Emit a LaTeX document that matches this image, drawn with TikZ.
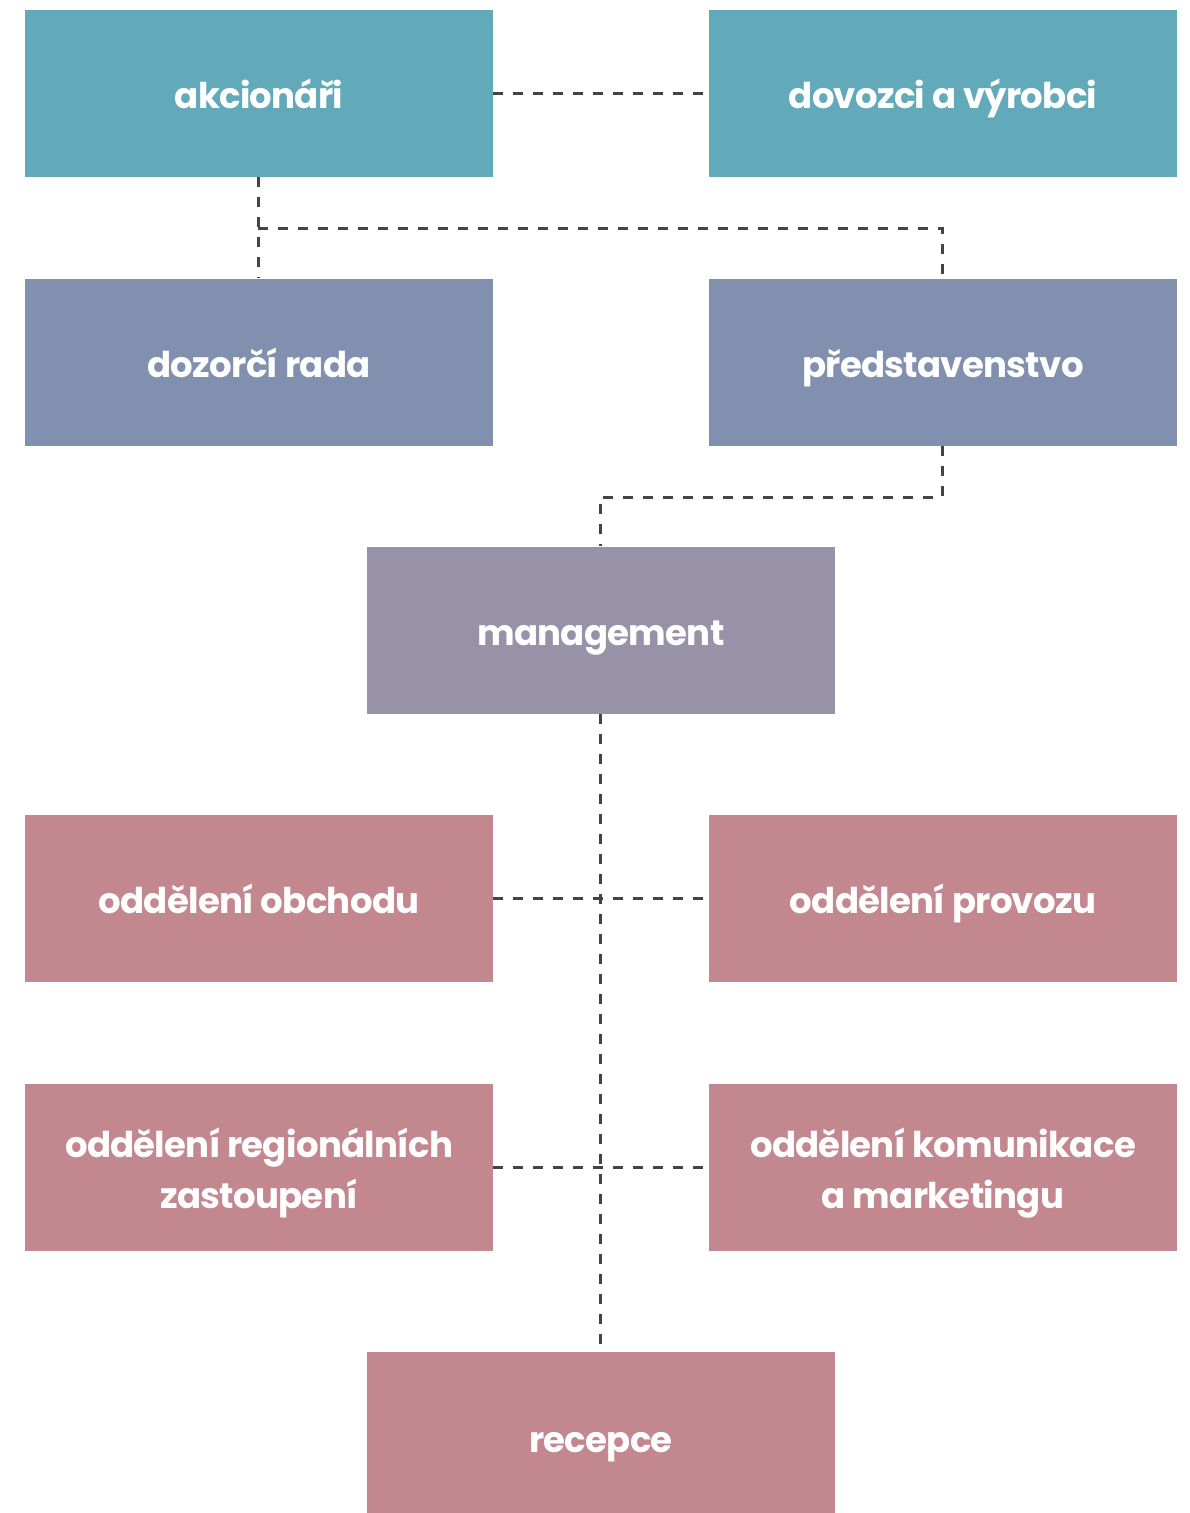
\documentclass[tikz,border=0pt]{standalone}
\usepackage{fontspec}
\setmainfont{Poppins}[LetterSpace=-2]
\definecolor{cteal}{HTML}{62AAB9}
\definecolor{cslate}{HTML}{8090AE}
\definecolor{cmgmt}{HTML}{9892A8}
\definecolor{crose}{HTML}{C38790}
\definecolor{cline}{HTML}{444444}
\begin{document}
\begin{tikzpicture}[x=1pt,y=-1pt,
  box/.style={rectangle, inner sep=0pt, minimum width=468pt, minimum height=167pt, fill=#1},
  lbl/.style={text=white, align=center, inner sep=0pt, anchor=base,
     font=\fontsize{35.5}{51}\selectfont\bfseries},
  conn/.style={draw=cline, line width=3pt, dash pattern=on 10pt off 10pt}]
\useasboundingbox (0,0) rectangle (1189,1513);
\node[box=cteal] (akc) at (259,93.5) {};
\node[box=cteal] (dov) at (943,93.5) {};
\node[box=cslate] (doz) at (259,362) {};
\node[box=cslate] (pre) at (943,362) {};
\node[box=cmgmt] (man) at (601,630) {};
\node[box=crose] (obc) at (259,898) {};
\node[box=crose] (pro) at (943,898) {};
\node[box=crose] (reg) at (259,1167) {};
\node[box=crose] (kom) at (943,1167) {};
\node[box=crose, minimum height=161pt] (rec) at (601,1432.5) {};
\node[lbl] (takc) at ([yshift=-14.5pt]akc.center) {akcionáři};
\node[lbl] (tdov) at ([yshift=-14.5pt]dov.center) {dovozci a výrobci};
\node[lbl] (tdoz) at ([yshift=-15pt]doz.center) {dozorčí rada};
\node[lbl] (tpre) at ([yshift=-15pt]pre.center) {představenstvo};
\node[lbl] (tman) at ([yshift=-15pt]man.center) {management};
\node[lbl] (tobc) at ([yshift=-15pt]obc.center) {oddělení obchodu};
\node[lbl] (tpro) at ([yshift=-15pt]pro.center) {oddělení provozu};
\node[lbl] (treg) at ([yshift=-41pt]reg.center) {oddělení regionálních\\zastoupení};
\node[lbl] (tkom) at ([yshift=-41pt]kom.center) {oddělení komunikace\\a marketingu};
\node[lbl] (trec) at ([yshift=-20pt]rec.center) {recepce};
\coordinate (j1) at (258,228);
\coordinate (j2) at (942,228);
\coordinate (j3) at (942,497);
\coordinate (j4) at (600,497);
\draw[conn] (akc.east) -- (dov.west);
\draw[conn] (akc.south -| j1) -- (doz.north -| j1);
\draw[conn] (j1) -- (j2) -- (pre.north -| j2);
\draw[conn] (pre.south -| j3) -- (j3) -- (j4) -- (man.north -| j4);
\draw[conn] (man.south -| j4) -- (rec.north -| j4);
\draw[conn] (obc.east) -- (pro.west);
\draw[conn] (reg.east) -- (kom.west);
\end{tikzpicture}
\end{document}
